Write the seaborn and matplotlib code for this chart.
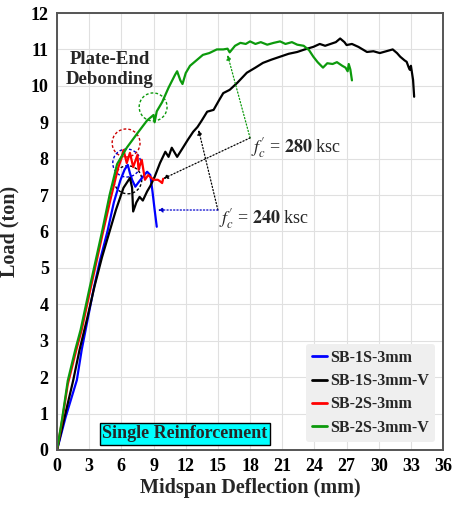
import numpy as np
import pandas as pd
import matplotlib
matplotlib.use('Agg')
import matplotlib.pyplot as plt
import seaborn as sns
from matplotlib.patches import Ellipse

# Load-deflection readings (mm, ton) per specimen
sb1_x = [0, 0.8, 1.85, 2.3, 2.8, 3.4, 4.0, 4.7, 5.3, 5.9, 6.3, 6.6, 6.8, 7.0, 7.3, 7.6, 8.0, 8.4, 8.7, 8.9, 9.1, 9.3]
sb1_y = [0, 0.9, 1.92, 2.75, 3.5, 4.4, 5.2, 6.0, 6.8, 7.4, 7.7, 7.83, 7.6, 7.42, 7.23, 7.35, 7.5, 7.64, 7.55, 7.1, 6.6, 6.13]

sb1v_x = [0, 0.7, 1.5, 2.1, 2.8, 3.5, 4.2, 4.9, 5.5, 6.2, 6.8, 7.0, 7.1, 7.4, 7.7, 8.0, 8.4, 8.7, 9.1,
          9.6, 10.1, 10.4, 10.7, 11.2, 11.8, 12.2, 12.7, 13.1, 13.5, 14.0, 14.6, 15.1, 15.5, 16.1, 16.8,
          17.7, 18.5, 19.2, 20.0, 20.8, 21.6, 22.4, 23.1, 23.9, 24.5, 25.0, 25.5, 26.0, 26.4, 26.8, 27.0,
          27.5, 28.1, 28.5, 28.9, 29.5, 30.1, 30.7, 31.3, 31.7, 32.0, 32.4, 32.6, 32.8, 32.9, 33.0, 33.2, 33.3]
sb1v_y = [0, 0.9, 1.9, 2.75, 3.6, 4.5, 5.3, 6.0, 6.6, 7.2, 7.47, 7.2, 6.55, 6.8, 6.95, 6.85, 7.1, 7.25, 7.5,
          7.88, 8.19, 8.05, 8.3, 8.05, 8.33, 8.52, 8.74, 8.87, 9.05, 9.29, 9.34, 9.6, 9.8, 9.89, 10.08,
          10.36, 10.5, 10.63, 10.72, 10.8, 10.88, 10.93, 11.0, 11.07, 11.15, 11.1, 11.15, 11.2, 11.3, 11.2, 11.12,
          11.15, 11.07, 11.0, 10.93, 10.95, 10.9, 10.95, 11.0, 10.9, 10.8, 10.7, 10.66, 10.5, 10.44, 10.55, 10.16, 9.7]

sb2_x = [0, 0.5, 1.0, 1.8, 2.3, 3.1, 3.7, 4.3, 5.0, 5.7, 6.0, 6.2, 6.5, 6.8, 7.1, 7.5, 7.6, 7.9, 8.2, 8.5,
         9.0, 9.4, 9.6, 9.8, 9.9]
sb2_y = [0, 0.85, 1.8, 2.75, 3.3, 4.4, 5.2, 6.0, 6.9, 7.75, 8.0, 8.24, 7.88, 8.16, 7.77, 8.1, 7.7, 7.97, 7.42, 7.55,
         7.42, 7.42, 7.38, 7.33, 7.45]

sb2v_x = [0, 0.5, 1.0, 1.7, 2.2, 3.0, 3.6, 4.2, 4.9, 5.6, 6.5, 7.5, 8.4, 9.0, 9.1, 9.3, 9.8, 10.4, 11.0, 11.2,
          11.5, 11.7, 12.0, 12.4, 13.0, 13.6, 14.2, 14.9, 15.5, 15.9, 16.1, 16.6, 17.1, 17.6, 18.0, 18.5, 19.0,
          19.6, 20.2, 20.8, 21.3, 21.9, 22.4, 23.0, 23.5, 23.9, 24.3, 24.8, 25.2, 25.7, 26.1, 26.6, 26.9, 27.1,
          27.2, 27.35, 27.5]
sb2v_y = [0, 0.9, 1.9, 2.75, 3.3, 4.4, 5.2, 6.0, 7.0, 7.85, 8.3, 8.7, 9.05, 9.2, 9.0, 9.3, 9.55, 9.95, 10.3, 10.4,
          10.15, 10.05, 10.35, 10.55, 10.7, 10.85, 10.9, 11.0, 11.0, 11.02, 10.92, 11.1, 11.18, 11.15, 11.22, 11.15, 11.2,
          11.13, 11.18, 11.22, 11.15, 11.2, 11.13, 11.1, 10.98, 10.8, 10.65, 10.5, 10.62, 10.6, 10.65, 10.55, 10.5, 10.4,
          10.6, 10.45, 10.15]

labels = ['SB-1S-3mm', 'SB-1S-3mm-V', 'SB-2S-3mm', 'SB-2S-3mm-V']
colors = ['#0000ff', '#000000', '#ff0000', '#0c9a0c']

x_ticks = list(range(0, 37, 3))
y_ticks = list(range(0, 13))

sns.set_style('whitegrid')
# Times-like serif; STIXGeneral ships with matplotlib as a fallback
plt.rcParams['font.family'] = ['Liberation Serif', 'STIXGeneral', 'DejaVu Serif']
plt.rcParams['mathtext.fontset'] = 'stix'

df = pd.concat([
    pd.DataFrame({'x': sb1_x, 'y': sb1_y, 'spec': labels[0]}),
    pd.DataFrame({'x': sb1v_x, 'y': sb1v_y, 'spec': labels[1]}),
    pd.DataFrame({'x': sb2_x, 'y': sb2_y, 'spec': labels[2]}),
    pd.DataFrame({'x': sb2v_x, 'y': sb2v_y, 'spec': labels[3]}),
], ignore_index=True)

fig = plt.figure(figsize=(4.54, 5.08), dpi=100)
ax = fig.add_axes([0.1256, 0.1142, 0.8504, 0.8602])

sns.lineplot(data=df, x='x', y='y', hue='spec', palette=dict(zip(labels, colors)),
             sort=False, estimator=None, linewidth=1.6, ax=ax)

ax.set_xlim(0, 36)
ax.set_ylim(0, 12)
ax.set_xticks(x_ticks)
ax.set_yticks(y_ticks)
ax.grid(True, color='#e0e0e0', linewidth=0.8)
for s in ax.spines.values():
    s.set_color('#555555')
    s.set_linewidth(1.4)
ax.tick_params(direction='in', length=4, width=0.8, colors='#555555', labelcolor='black',
               labelsize=13, pad=6)
for lab in ax.get_xticklabels() + ax.get_yticklabels():
    lab.set_fontweight('bold')
ax.set_xlabel('Midspan Deflection (mm)', fontsize=14.5, fontweight='bold', labelpad=2)
ax.set_ylabel('Load (ton)', fontsize=14.5, fontweight='bold', labelpad=8)

# dashed circles marking debonding points
circles = [((8.96, 9.42), '#0c9a0c'), ((6.44, 8.43), '#cc0000'), ((6.5, 7.88), '#0000cc'), ((6.6, 7.42), '#000000')]
for (cx, cy), c in circles:
    ax.add_patch(Ellipse((cx, cy), 2.6, 0.77, fill=False, edgecolor=c, linestyle=(0, (2, 1.5)), linewidth=1.0))

ax.text(4.9, 10.45, 'Plate-End\nDebonding', ha='center', va='center', fontsize=13.5,
        fontweight='bold', linespacing=1.2)

# f'c annotations with dotted leaders
arrow = dict(arrowstyle='-|>', linestyle=':', linewidth=0.9, mutation_scale=7, shrinkA=0, shrinkB=0)
v280 = (18.0, 8.57)
ax.annotate('', xy=(15.9, 10.85), xytext=v280, arrowprops=dict(arrow, color='#0c9a0c'))
ax.annotate('', xy=(9.9, 7.45), xytext=v280, arrowprops=dict(arrow, color='black'))
ax.text(18.1, 8.3, r"$f_c'$ = $\mathbf{280}$ ksc", fontsize=13, ha='left', va='center')

v240 = (15.0, 6.59)
ax.annotate('', xy=(13.2, 8.79), xytext=v240, arrowprops=dict(arrow, color='black'))
ax.annotate('', xy=(9.4, 6.59), xytext=v240, arrowprops=dict(arrow, color='#0000cc'))
ax.text(15.1, 6.35, r"$f_c'$ = $\mathbf{240}$ ksc", fontsize=13, ha='left', va='center')

ax.text(11.94, 0.44, 'Single Reinforcement', ha='center', va='center', fontsize=13, fontweight='bold',
        bbox=dict(boxstyle='square,pad=0.12', facecolor='#00ffff', edgecolor='black', linewidth=1))

leg = ax.legend(loc='lower right', frameon=True, facecolor='#efefef', edgecolor='none',
                framealpha=1, handlelength=0.9, handletextpad=0.2, borderaxespad=0.5, labelspacing=0.45,
                prop={'weight': 'bold', 'size': 11.5})
for line in leg.get_lines():
    line.set_linewidth(2)

fig.savefig('out.png', dpi=100)
